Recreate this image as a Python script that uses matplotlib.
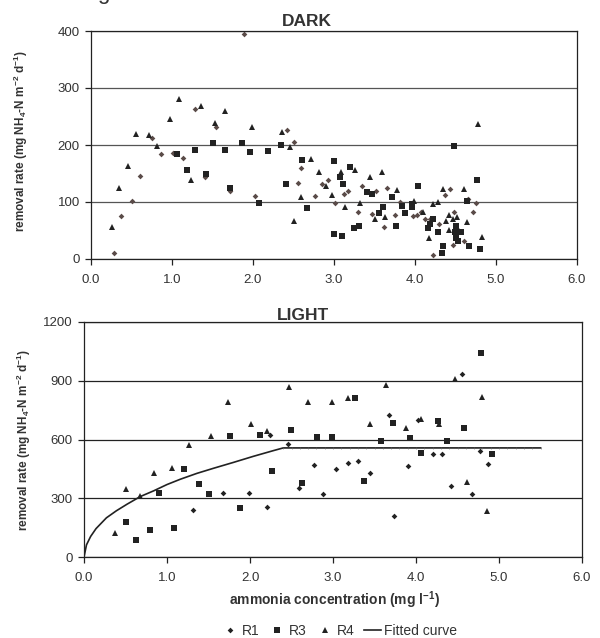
import matplotlib
matplotlib.use("Agg")
import matplotlib.pyplot as plt
from matplotlib.lines import Line2D

plt.rcParams['font.family'] = ['Liberation Sans', 'DejaVu Sans']
plt.rcParams['mathtext.fontset'] = 'custom'
plt.rcParams['mathtext.rm'] = 'Liberation Sans'
plt.rcParams['mathtext.bf'] = 'Liberation Sans:bold'

# ---------------- DARK data ----------------
dark_r1_x = [0.29, 0.37, 0.50, 0.60, 0.75, 0.86, 1.01, 1.13, 1.29, 1.41, 1.54, 1.72, 1.89, 2.02,
             2.42, 2.51, 2.56, 2.59, 2.76, 2.85, 2.93, 3.01, 3.12, 3.17, 3.30, 3.35, 3.47, 3.52,
             3.62, 3.66, 3.75, 3.81, 3.98, 4.03, 4.07, 4.12, 4.18, 4.22, 4.30, 4.37, 4.43, 4.47,
             4.48, 4.50, 4.53, 4.60, 4.64, 4.66, 4.72, 4.75]
dark_r1_y = [10, 75, 101, 145, 213, 185, 186, 178, 264, 143, 232, 119, 394, 111,
             226, 206, 133, 159, 110, 131, 139, 99, 114, 119, 83, 128, 79, 120,
             56, 125, 78, 100, 75, 77, 82, 70, 71, 7, 61, 112, 123, 25,
             82, 55, 51, 32, 103, 106, 83, 99]

dark_r3_x = [1.06, 1.18, 1.29, 1.42, 1.50, 1.65, 1.72, 1.87, 1.96, 2.08, 2.18, 2.34, 2.41, 2.61,
             2.67, 3.00, 3.00, 3.07, 3.10, 3.11, 3.20, 3.25, 3.31, 3.41, 3.47, 3.56, 3.61, 3.72,
             3.76, 3.84, 3.88, 3.96, 3.96, 4.04, 4.16, 4.18, 4.22, 4.28, 4.33, 4.35, 4.48, 4.49,
             4.50, 4.51, 4.53, 4.57, 4.64, 4.67, 4.76, 4.80]
dark_r3_y = [184, 157, 191, 149, 203, 192, 125, 203, 188, 99, 190, 200, 132, 173,
             89, 172, 43, 143, 40, 131, 161, 54, 58, 117, 114, 80, 92, 108,
             58, 93, 80, 92, 97, 128, 54, 62, 71, 47, 10, 23, 199, 47,
             36, 58, 31, 47, 102, 23, 139, 17]

dark_r4_x = [0.26, 0.34, 0.46, 0.56, 0.71, 0.82, 0.98, 1.09, 1.24, 1.36, 1.53, 1.65, 1.99, 2.36,
             2.46, 2.50, 2.59, 2.72, 2.81, 2.90, 2.97, 3.09, 3.14, 3.26, 3.32, 3.44, 3.50, 3.59,
             3.63, 3.78, 3.99, 4.10, 4.17, 4.22, 4.29, 4.34, 4.38, 4.42, 4.42, 4.47, 4.52, 4.61,
             4.64, 4.78, 4.83]
dark_r4_y = [56, 124, 163, 220, 218, 198, 245, 280, 139, 268, 238, 260, 231, 222,
             196, 67, 109, 176, 153, 128, 113, 152, 92, 156, 99, 144, 71, 152,
             73, 121, 101, 82, 37, 97, 100, 123, 67, 51, 77, 70, 74, 122,
             65, 237, 38]

# ---------------- LIGHT data ----------------
light_r1_x = [1.31, 1.68, 1.99, 2.20, 2.24, 2.46, 2.59, 2.77, 2.88, 3.04, 3.18, 3.30, 3.45, 3.67,
              3.74, 3.90, 4.03, 4.20, 4.31, 4.42, 4.56, 4.68, 4.77, 4.87]
light_r1_y = [239, 329, 329, 254, 621, 579, 352, 468, 321, 449, 480, 492, 430, 725,
              210, 466, 698, 524, 524, 365, 932, 321, 543, 475]

light_r3_x = [0.50, 0.63, 0.79, 0.90, 1.08, 1.21, 1.39, 1.51, 1.76, 1.88, 2.12, 2.26, 2.49, 2.63,
              2.81, 2.99, 3.26, 3.37, 3.58, 3.72, 3.93, 4.06, 4.26, 4.37, 4.58, 4.78, 4.91]
light_r3_y = [179, 87, 138, 329, 149, 449, 372, 323, 618, 249, 623, 440, 650, 377,
              615, 615, 814, 389, 591, 685, 608, 531, 695, 591, 657, 1041, 526]

light_r4_x = [0.37, 0.50, 0.68, 0.84, 1.06, 1.26, 1.53, 1.74, 2.01, 2.20, 2.47, 2.70, 2.99, 3.18,
              3.45, 3.64, 3.88, 4.06, 4.28, 4.47, 4.62, 4.79, 4.86]
light_r4_y = [125, 348, 309, 430, 457, 570, 616, 790, 679, 642, 867, 789, 794, 813,
              679, 877, 657, 703, 681, 911, 381, 818, 237]

curve_x = [0.0, 0.03, 0.08, 0.145, 0.27, 0.39, 0.52, 0.68, 0.84, 1.0, 1.16, 1.36, 1.56, 1.80,
           2.04, 2.28, 2.4, 2.5, 2.6, 2.7, 2.8, 2.9, 3.0, 3.1, 3.2, 3.3, 3.4, 3.5, 3.6, 3.7,
           3.8, 3.9, 4.0, 4.1, 4.2, 4.3, 4.4, 4.5, 4.6, 4.7, 4.8, 4.9, 5.0, 5.1, 5.2, 5.3,
           5.4, 5.5]
curve_y = [0, 62, 105, 145, 200, 236, 270, 309, 338, 370, 397, 427, 453, 483,
           514, 543, 557, 557, 557, 557, 557, 557, 557, 557, 557, 557, 557, 557, 557, 557,
           557, 557, 557, 557, 557, 557, 557, 557, 557, 557, 557, 557, 557, 557, 557, 557,
           557, 557]
plateau_start = 16

x_ticks = [0, 1, 2, 3, 4, 5, 6]
x_labels = ['0.0', '1.0', '2.0', '3.0', '4.0', '5.0', '6.0']
dark_yticks = [0, 100, 200, 300, 400]
light_yticks = [0, 300, 600, 900, 1200]

W, H = 600, 638
fig = plt.figure(figsize=(W / 100, H / 100), dpi=100)

ax1 = fig.add_axes([91 / W, 1 - 259 / H, 486 / W, 228 / H])
ax2 = fig.add_axes([84 / W, 1 - 557 / H, 498 / W, 235 / H])

txt = '#333333'
for ax, yt, gridc in [(ax1, dark_yticks, '#555555'), (ax2, light_yticks, '#222222')]:
    ax.set_xlim(0, 6)
    ax.set_ylim(yt[0], yt[-1])
    ax.set_xticks(x_ticks)
    ax.set_xticklabels(x_labels)
    ax.set_yticks(yt)
    ax.set_axisbelow(True)
    ax.yaxis.grid(True, color=gridc, lw=0.9)
    for s in ax.spines.values():
        s.set_color('#222222')
        s.set_linewidth(0.9)
    ax.tick_params(direction='out', length=4, width=0.9, color='#222222',
                   labelsize=9.5, labelcolor=txt)
    ax.tick_params(axis='x', pad=7)
    ax.tick_params(axis='y', pad=4)

dia_c_dark = '#5a4b48'
blk = '#222222'
ax1.plot(dark_r1_x, dark_r1_y, ls='none', marker='D', ms=2.9, mew=0, color=dia_c_dark, clip_on=False)
ax1.plot(dark_r3_x, dark_r3_y, ls='none', marker='s', ms=4.0, mew=0, color=blk, clip_on=False)
ax1.plot(dark_r4_x, dark_r4_y, ls='none', marker='^', ms=4.6, mew=0, color=blk, clip_on=False)

h1, = ax2.plot(light_r1_x, light_r1_y, ls='none', marker='D', ms=2.9, mew=0, color=blk)
h3, = ax2.plot(light_r3_x, light_r3_y, ls='none', marker='s', ms=4.0, mew=0, color=blk)
h4, = ax2.plot(light_r4_x, light_r4_y, ls='none', marker='^', ms=4.6, mew=0, color=blk)
ax2.plot(curve_x, curve_y, color=blk, lw=1.2, marker='|', ms=1.8, mew=0.4,
         markeredgecolor='#666666',
         markevery=list(range(plateau_start, len(curve_x))))
hc = Line2D([], [], color=blk, lw=1.2)

fig.text(307 / W, 1 - 21.5 / H, 'DARK', ha='center', va='center', weight='bold',
         size=12.5, color=txt)
fig.text(302.5 / W, 1 - 315.5 / H, 'LIGHT', ha='center', va='center', weight='bold',
         size=12.5, color=txt)

ylab = r'removal rate (mg NH$_{\mathbf{4}}$-N m$^{\mathbf{-2}}$ d$^{\mathbf{-1}}$)'
fig.text(21 / W, 1 - 141 / H, ylab, rotation=90, ha='center', va='center',
         weight='bold', size=8.5, color=txt)
fig.text(24 / W, 1 - 440 / H, ylab, rotation=90, ha='center', va='center',
         weight='bold', size=8.5, color=txt)

fig.text(334 / W, 1 - 600 / H, r'ammonia concentration (mg l$^{\mathbf{-1}}$)', ha='center',
         va='center', weight='bold', size=10, color=txt)

fig.text(97 / W, 1 + 1.3 / H, 'g', ha='left', va='baseline', size=16, color=txt)

fig.legend([h1, h3, h4, hc], ['R1', 'R3', 'R4', 'Fitted curve'], loc='center',
           bbox_to_anchor=(339.5 / W, 1 - 631 / H), ncol=4, frameon=False,
           fontsize=10, handlelength=1.2, handletextpad=0.25, columnspacing=0.7,
           borderpad=0, labelcolor=txt)

fig.savefig('out.png', dpi=100)
